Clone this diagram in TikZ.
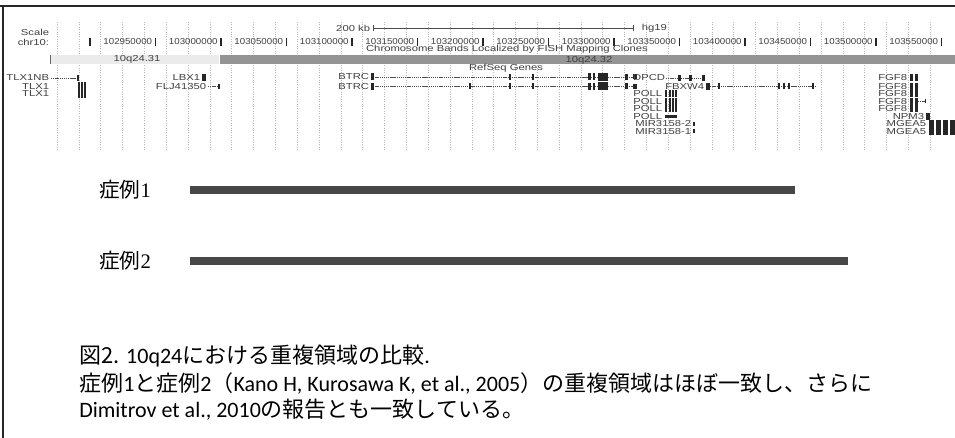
\documentclass[tikz,border=0pt]{standalone}
\usepackage{fontspec}
\setmainfont{Carlito}
\newfontfamily\cjk{Noto Sans CJK JP}
\newfontfamily\ucsc[FakeStretch=1.3]{Liberation Sans}
\newfontfamily\ucscn[FakeStretch=1.12]{Liberation Sans}
\newfontfamily\serifnum{Liberation Serif}
\begin{document}
\begin{tikzpicture}[x=0.75pt,y=-0.75pt,
  gt/.style={font=\ucsc\fontsize{6.5}{7}\selectfont, text=black!75, inner sep=0.5pt},
  gn/.style={font=\ucscn\fontsize{6.5}{7}\selectfont, text=black!75, inner sep=0.5pt},
  intron/.style={draw=black!70, line width=0.45pt, dash pattern=on 1pt off 0.6pt},
  exon/.style={fill=black!85, draw=none},
  guide/.style={draw=black!28, line width=0.4pt, dash pattern=on 0.6pt off 1.2pt},
  captxt/.style={font=\fontsize{16.5}{19}\selectfont, inner sep=0pt, anchor=west},
  casetxt/.style={font=\fontsize{15.5}{18}\selectfont, inner sep=0pt, anchor=west},
  casebar/.style={fill=black!72, draw=none}]
\fill[white] (0,0) rectangle (955,438);
\useasboundingbox (0,0) rectangle (955,438);
% frame
\draw[black!85, line width=1.6pt] (0,6) -- (955,6);
\draw[black!85, line width=1pt] (3,6) -- (3,438);
% guide lines
\foreach \i in {0,...,40} \draw[guide] ({57+\i*21.83},22) -- ({57+\i*21.83},150);
% scale row
\node[gt, anchor=east] (scl) at (50,32) {Scale};
\node[gt, anchor=east] (chr) at (50,42) {chr10:};
\node[gt, anchor=east] (kb) at (371,28) {200 kb};
\coordinate (kbL) at (373,28);
\coordinate (kbR) at (633,28);
\draw[black!70, line width=0.5pt] (kbL) -- (kbR);
\draw[black!70, line width=0.5pt] ([yshift=-2.5pt]kbL) -- ([yshift=2.5pt]kbL);
\draw[black!70, line width=0.5pt] ([yshift=-2.5pt]kbR) -- ([yshift=2.5pt]kbR);
\node[gt, anchor=west] (hg) at (641,28) {hg19};
% coordinates
\draw[black!85, line width=1.1pt] (90,38) -- (90,46);
\foreach \n [count=\i from 0] in {102950000,103000000,103050000,103100000,103150000,103200000,103250000,103300000,103350000,103400000,103450000,103500000,103550000}{
  \node[gn, anchor=east] (c\i) at ({153+65.5*\i},42) {\n};
  \draw[black!85, line width=1.1pt] ({155.5+65.5*\i},38) -- ({155.5+65.5*\i},46);
}
% bands
\node[gt] (cb) at (507,49.5) {Chromosome Bands Localized by FISH Mapping Clones};
\fill[black!8] (50,55) rectangle (219,64);
\draw[black!60, line width=0.5pt] (50,55) -- (50,64);
\fill[black!42] (220,55) rectangle (955,64);
\node[gt] (b31) at (137,59.5) {10q24.31};
\node[gt] (b32) at (589,60) {10q24.32};
\node[gt] (rs) at (506,68) {RefSeq Genes};
% genes
% TLX1NB / TLX1
\node[gt, anchor=east] (tlxnb) at (50,78) {TLX1NB};
\draw[intron] (51,78) -- (78,78);
\fill[exon] (77,75) rectangle (79,81);
\node[gt, anchor=east] (tlx1a) at (50,86.5) {TLX1};
\node[gt, anchor=east] (tlx1b) at (50,94) {TLX1};
\foreach \x in {78,81,84} \fill[exon] (\x,82) rectangle (\x+2,98);
% LBX1, FLJ41350
\node[gt, anchor=east] (lbx) at (201,78) {LBX1};
\fill[exon] (202,74.5) rectangle (206,81.5);
\node[gt, anchor=east] (flj) at (207,86.5) {FLJ41350};
\draw[intron] (208,86.5) -- (219,86.5);
\fill[exon] (217.5,84) rectangle (220,89);
% BTRC
\foreach \y [count=\k] in {77,86.5}{
  \node[gt, anchor=east] (btrc\k) at (370,\y) {BTRC};
  \draw[intron] (371,\y) -- (636,\y);
  \fill[exon] (371,\y-3.5) rectangle (373.5,\y+3.5);
  \fill[exon] (509,\y-3) rectangle (511,\y+3);
  \fill[exon] (532,\y-3) rectangle (534,\y+3);
  \fill[exon] (588,\y-3.5) rectangle (590.5,\y+3.5);
  \fill[exon] (592.5,\y-3.5) rectangle (595,\y+3.5);
  \fill[exon] (598,\y-4) rectangle (608,\y+4);
  \fill[exon] (625,\y-3) rectangle (628,\y+3);
  \fill[exon] (633,\y-2.5) rectangle (637,\y+2.5);
}
\fill[exon] (469,83.5) rectangle (471,89.5);
% DPCD
\node[gt, anchor=east] (dpcd) at (666,78) {DPCD};
\draw[intron] (666,78) -- (705,78);
\foreach \x in {678,689,702} \fill[exon] (\x,75) rectangle (\x+3,81);
% FBXW4
\node[gt, anchor=east] (fbx) at (705,86.5) {FBXW4};
\draw[intron] (708,86.5) -- (815,86.5);
\fill[exon] (706,83) rectangle (710,90);
\foreach \x in {718,778,783,788,812} \fill[exon] (\x,83.5) rectangle (\x+2.2,89.5);
% POLL
\foreach \y [count=\k] in {94,101.5,109}{
  \node[gt, anchor=east] (poll\k) at (663,\y) {POLL};
  \foreach \x in {665,668.5,672,675} \fill[exon] (\x,\y-3.5) rectangle (\x+2.2,\y+3.5);
}
\node[gt, anchor=east] (poll4) at (663,116.5) {POLL};
\fill[exon] (665,115) rectangle (677,118);
% MIR3158
\node[gt, anchor=east] (mir2) at (692,124) {MIR3158-2};
\fill[exon] (693,122) rectangle (694.5,126);
\node[gt, anchor=east] (mir1) at (692,131.5) {MIR3158-1};
\fill[exon] (693,129.5) rectangle (694.5,133.5);
% FGF8
\foreach \y [count=\k] in {78,86.5,94,101.5,109}{
  \node[gt, anchor=east] (fgf\k) at (908,\y) {FGF8};
  \fill[exon] (910,\y-3.5) rectangle (913,\y+3.5);
  \fill[exon] (915,\y-3.5) rectangle (918,\y+3.5);
}
\draw[intron] (918,101.5) -- (925,101.5);
\fill[exon] (924.5,99.5) rectangle (926,103.5);
% NPM3
\node[gt, anchor=east] (npm) at (925,116.5) {NPM3};
\fill[exon] (926,113) rectangle (930,120);
% MGEA5
\foreach \y [count=\k] in {124,131.5}{
  \node[gt, anchor=east] (mg\k) at (927,\y) {MGEA5};
  \foreach \x in {929,936,943,950} \fill[exon] (\x,\y-4) rectangle (\x+5,\y+4);
}
% cases
\node[casetxt] (p1) at (99,190) {{\cjk 症例}{\serifnum 1}};
\node[casetxt] (p2) at (99,261) {{\cjk 症例}{\serifnum 2}};
\fill[casebar] (190,186) rectangle (795,194);
\fill[casebar] (190,257) rectangle (848,264.5);
% caption
\node[captxt] (t1) at (79,356) {{\cjk 図2.} 10q24{\cjk における重複領域の比較}.};
\node[captxt] (t2) at (79,383) {{\cjk 症例}1{\cjk と症例}2{\cjk （}Kano H, Kurosawa K, et al., 2005{\cjk ）の重複領域はほぼ一致し、さらに}};
\node[captxt] (t3) at (79,410) {Dimitrov et al., 2010{\cjk の報告とも一致している。}};
\end{tikzpicture}
\end{document}
